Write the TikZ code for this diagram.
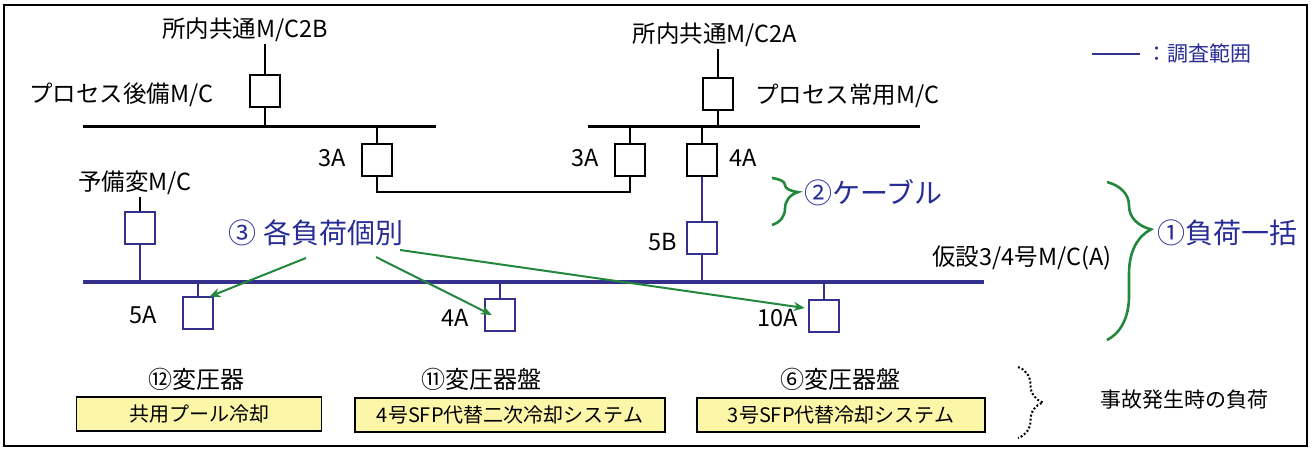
\documentclass[tikz,border=0pt]{standalone}
\usepackage{fontspec}
\setmainfont{Noto Sans CJK JP}
\usetikzlibrary{decorations.pathreplacing,arrows.meta,calc}
\definecolor{scopeblue}{RGB}{52,48,140}
\definecolor{txtblue}{RGB}{40,45,150}
\definecolor{brgreen}{RGB}{35,135,60}
\definecolor{ylw}{RGB}{252,246,168}
\begin{document}
\begin{tikzpicture}[x=1pt,y=-1pt,
  lbl/.style={inner sep=0pt,font=\fontsize{23.5}{24}\selectfont},
  bluelbl/.style={inner sep=0pt,text=txtblue,font=\fontsize{28}{30}\selectfont},
  brk/.style={draw,line width=2.6pt,minimum width=30pt,minimum height=32pt,inner sep=0pt},
  bbrk/.style={brk,draw=scopeblue},
  bus/.style={line width=3pt},
  bbus/.style={line width=3.2pt,draw=scopeblue},
  wire/.style={line width=2.4pt},
  bwire/.style={line width=2.6pt,draw=scopeblue},
  garrow/.style={line width=2pt,draw=brgreen,-{Stealth[length=11pt,width=9pt]}},
  gbrace/.style={line width=2.6pt,draw=brgreen,decorate,decoration={brace,amplitude=12pt}},
  ybox/.style={draw,line width=1.6pt,fill=ylw,inner sep=0pt,minimum height=34pt,font=\fontsize{20}{21}\selectfont},
  hd/.style={inner sep=0pt,font=\fontsize{24}{26}\selectfont}
]
\useasboundingbox (0,0) rectangle (1313,452);
\draw[line width=1.8pt] (4,5) rectangle (1307,446);

% legend
\coordinate (lg1) at (1092,54);
\coordinate (lg2) at (1140,54);
\draw[line width=2.8pt,draw=scopeblue] (lg1) -- (lg2);
\node[inner sep=0pt,anchor=west,text=txtblue,font=\fontsize{21}{22}\selectfont] (lgt) at (1146,54) {：調査範囲};

% upper left M/C
\node[lbl] (t2b) at (245,30) {所内共通M/C2B};
\node[lbl,anchor=west] (pb) at (29,95) {プロセス後備M/C};
\node[brk] (b2b) at (265,91) {};
\coordinate (bus1a) at (83,126);
\coordinate (bus1b) at (436,126);
\draw[bus] (bus1a) -- (bus1b);
\draw[wire] (t2b.south -| b2b) ++(0,2) -- (b2b.north);
\draw[wire] (b2b.south) -- (b2b.south |- bus1a);

\node[brk] (b3A1) at (377,160) {};
\node[lbl,anchor=east] (l3A1) at (346,158) {3A};
\draw[wire] (b3A1.north) -- (b3A1.north |- bus1a);

% upper right M/C
\node[lbl] (t2a) at (715,35) {所内共通M/C2A};
\node[brk] (b2a) at (718,94) {};
\node[lbl,anchor=west] (pj) at (755,96) {プロセス常用M/C};
\coordinate (bus2a) at (588,126);
\coordinate (bus2b) at (920,126);
\draw[bus] (bus2a) -- (bus2b);
\draw[wire] (t2a.south -| b2a) ++(0,2) -- (b2a.north);
\draw[wire] (b2a.south) -- (b2a.south |- bus2a);

\node[brk] (b3A2) at (630,160) {};
\node[lbl,anchor=east] (l3A2) at (599,158) {3A};
\draw[wire] (b3A2.north) -- (b3A2.north |- bus2a);
\coordinate (tie) at (630,192);
\draw[wire] (b3A1.south) |- (tie) -- (b3A2.south);

\node[brk] (b4A1) at (702,160) {};
\node[lbl,anchor=west] (l4A1) at (729,158) {4A};
\draw[wire] (b4A1.north) -- (b4A1.north |- bus2a);

% temporary M/C
\coordinate (bus3a) at (83,282);
\coordinate (bus3b) at (984,282);
\draw[bbus] (bus3a) -- (bus3b);
\node[lbl,anchor=west] (l3b) at (932,258) {仮設3/4号M/C(A)};

\node[bbrk] (b5B) at (702,238) {};
\node[lbl,anchor=east] (l5B) at (677,242) {5B};
\draw[bwire] (b4A1.south) -- (b5B.north);
\draw[bwire] (b5B.south) -- (b5B.south |- bus3a);

\node[lbl] (yb) at (135,183) {予備変M/C};
\node[bbrk] (bY) at (140,228) {};
\draw[wire] (yb.south -| bY) ++(0,2) -- (bY.north);
\draw[bwire] (bY.south) -- (bY.south |- bus3a);

\node[bbrk] (b5A) at (198,313) {};
\node[lbl,anchor=east] (l5A) at (157,315) {5A};
\draw[bwire] (b5A.north) -- (b5A.north |- bus3a);

\node[bbrk] (b4A2) at (500,315) {};
\node[lbl,anchor=east] (l4A2) at (469,318) {4A};
\draw[bwire] (b4A2.north) -- (b4A2.north |- bus3a);

\node[bbrk] (b10A) at (824,316) {};
\node[lbl,anchor=east] (l10A) at (798,318) {10A};
\draw[bwire] (b10A.north) -- (b10A.north |- bus3a);

% annotations
\node[bluelbl] (t3) at (316,233) {③ 各負荷個別};
\coordinate (a1) at (306,258);
\coordinate (a2) at (376,257);
\coordinate (a3) at (400,250);
\draw[garrow] (a1) -- ($(b5A.north east)+(-5,1)$);
\draw[garrow] (a2) -- ($(b4A2.west)+(8,0)$);
\draw[garrow] (a3) -- ($(b10A.west)+(-3,-8)$);

\coordinate (br2a) at (772,178);
\coordinate (br2b) at (772,225);
\draw[gbrace,decoration={amplitude=26pt,aspect=0.3}] (br2a) -- (br2b);
\node[bluelbl,anchor=west] (t2) at (804,193) {②ケーブル};

\coordinate (br1a) at (1107,182);
\coordinate (br1b) at (1107,340);
\draw[gbrace,decoration={amplitude=44pt,aspect=0.3}] (br1a) -- (br1b);
\node[bluelbl,anchor=west] (t1) at (1157,233) {①負荷一括};

% loads at accident
\node[hd] (h12) at (196,379) {⑫変圧器};
\node[ybox,minimum width=245pt] (y12) at (199,414) {共用プール冷却};
\node[hd] (h11) at (481,379) {⑪変圧器盤};
\node[ybox,minimum width=310pt] (y11) at (510,415) {4号SFP代替二次冷却システム};
\node[hd] (h6) at (840,379) {⑥変圧器盤};
\node[ybox,minimum width=288pt] (y6) at (841,415) {3号SFP代替冷却システム};

\coordinate (dba) at (1018,367);
\coordinate (dbb) at (1018,438);
\draw[line width=2pt,dotted,decorate,decoration={brace,amplitude=25pt}] (dba) -- (dbb);
\node[inner sep=0pt,anchor=west,font=\fontsize{21}{22}\selectfont] (acc) at (1100,400) {事故発生時の負荷};
\end{tikzpicture}
\end{document}
